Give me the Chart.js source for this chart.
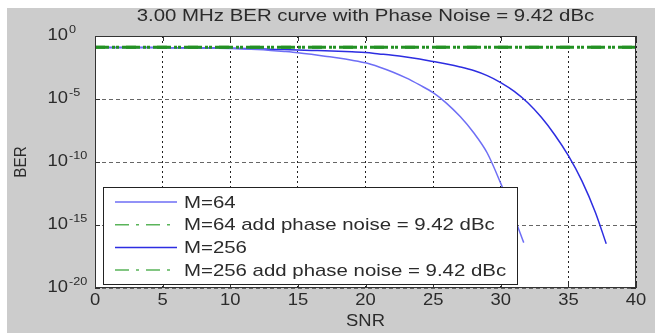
<!DOCTYPE html>
<html>
<head>
<meta charset="utf-8">
<script src="https://cdn.jsdelivr.net/npm/chart.js@4.4.0/dist/chart.umd.min.js"></script>
<style>
  html, body { margin: 0; padding: 0; background: #fff; }
</style>
</head>
<body>
<canvas id="chart" width="659" height="336"></canvas>
<script>
const title = '3.00 MHz BER curve with Phase Noise = 9.42 dBc';
const xTitle = 'SNR';
const yTitle = 'BER';

const xTicks = [0, 5, 10, 15, 20, 25, 30, 35, 40];
const yTicks = [1e-20, 1e-15, 1e-10, 1e-5, 1];
const yTickExp = ['-20', '-15', '-10', '-5', '0'];

const names = ['M=64', 'M=64 add phase noise = 9.42 dBc', 'M=256', 'M=256 add phase noise = 9.42 dBc'];

// M=64 without phase noise
const snr64 = [0, 1, 2, 3, 4, 5, 6, 7, 8, 9, 10, 11, 12, 13, 14, 15, 16, 17, 18, 19, 20,
  21, 22, 23, 24, 25, 26, 27, 28, 29, 30, 31, 31.7];
const ber64 = [1.26e-1, 1.25e-1, 1.23e-1, 1.21e-1, 1.20e-1, 1.18e-1, 1.15e-1, 1.12e-1, 1.10e-1, 1.07e-1,
  1.02e-1, 9.5e-2, 8.5e-2, 7.2e-2, 5.9e-2, 4.7e-2, 3.5e-2, 2.5e-2, 1.8e-2, 1.2e-2, 7.4e-3,
  3.5e-3, 1.4e-3, 4.7e-4, 1.3e-4, 3.2e-5, 4.5e-6, 4.0e-7, 2.1e-8, 5.2e-10, 2.0e-12, 4.0e-15, 4.0e-17];

// M=256 without phase noise
const snr256 = [0, 1, 2, 3, 4, 5, 6, 7, 8, 9, 10, 11, 12, 13, 14, 15, 16, 17, 18, 19, 20,
  21, 22, 23, 24, 25, 26, 27, 28, 29, 30, 31, 32, 33, 34, 35, 36, 37, 37.8];
const ber256 = [1.26e-1, 1.25e-1, 1.24e-1, 1.23e-1, 1.21e-1, 1.20e-1, 1.18e-1, 1.16e-1, 1.14e-1, 1.12e-1,
  1.07e-1, 1.02e-1, 9.5e-2, 8.9e-2, 8.3e-2, 7.8e-2, 7.2e-2, 6.8e-2, 6.2e-2, 5.5e-2, 4.8e-2,
  3.8e-2, 3.0e-2, 2.2e-2, 1.5e-2, 9.5e-3, 6.0e-3, 3.5e-3, 1.8e-3, 7.1e-4, 2.0e-4, 4.0e-5,
  5.0e-6, 3.5e-7, 1.4e-8, 3.2e-10, 3.2e-12, 1.0e-14, 3.2e-17];

// with phase noise (flat floor)
const snrPn = [0, 5, 10, 15, 20, 25, 30, 35, 40];
const ber64Pn = [0.128, 0.128, 0.128, 0.128, 0.128, 0.128, 0.128, 0.128, 0.128];
const ber256Pn = [0.127, 0.127, 0.127, 0.127, 0.127, 0.127, 0.127, 0.127, 0.127];

const FONT = '"Liberation Sans", Arial, sans-serif';
const INK = '#2b2b2b';

function pts(xs, ys) {
  return xs.map((v, i) => ({ x: v, y: ys[i] }));
}

// text with a slight horizontal stretch, like the picture
function label(ctx, str, x, y, size, align, sx) {
  ctx.save();
  ctx.font = size + 'px ' + FONT;
  ctx.textAlign = align;
  ctx.textBaseline = 'middle';
  ctx.translate(x, y);
  ctx.scale(sx, 1);
  ctx.fillText(str, 0, 0);
  ctx.restore();
}

const matlabFrame = {
  id: 'matlabFrame',
  beforeDraw(chart) {
    const { ctx, chartArea: a, width, height } = chart;
    ctx.save();
    ctx.fillStyle = '#ffffff';
    ctx.fillRect(0, 0, width, height);
    ctx.fillStyle = '#cccccc';
    ctx.fillRect(7, 8, width - 11, height - 11);
    ctx.fillStyle = '#ffffff';
    ctx.fillRect(a.left, a.top, a.right - a.left, a.bottom - a.top);
    ctx.restore();
  },
  afterDraw(chart) {
    const { ctx, chartArea: a, scales: { x, y } } = chart;
    ctx.save();

    // axes box and inward ticks
    ctx.strokeStyle = '#333';
    ctx.lineWidth = 1;
    ctx.strokeRect(a.left + 0.5, a.top + 0.5, a.right - a.left - 1, a.bottom - a.top - 1);
    ctx.beginPath();
    xTicks.forEach(v => {
      const px = Math.round(x.getPixelForValue(v)) + 0.5;
      ctx.moveTo(px, a.bottom); ctx.lineTo(px, a.bottom - 5);
      ctx.moveTo(px, a.top); ctx.lineTo(px, a.top + 5);
    });
    yTicks.forEach(v => {
      const py = Math.round(y.getPixelForValue(v)) + 0.5;
      ctx.moveTo(a.left, py); ctx.lineTo(a.left + 5, py);
      ctx.moveTo(a.right, py); ctx.lineTo(a.right - 5, py);
    });
    ctx.stroke();

    // tick labels
    ctx.fillStyle = INK;
    xTicks.forEach(v => label(ctx, String(v), x.getPixelForValue(v), a.bottom + 13, 16, 'center', 1.15));
    yTicks.forEach((v, i) => {
      const py = y.getPixelForValue(v);
      label(ctx, '10', 68, py, 16, 'right', 1.15);
      label(ctx, yTickExp[i], 69, py - 6, 11, 'left', 1.15);
    });

    // axis titles and title
    label(ctx, xTitle, (a.left + a.right) / 2, a.bottom + 34, 16, 'center', 1.15);
    ctx.save();
    ctx.translate(22, (a.top + a.bottom) / 2);
    ctx.rotate(-Math.PI / 2);
    label(ctx, yTitle, 0, 0, 16, 'center', 0.95);
    ctx.restore();
    label(ctx, title, (a.left + a.right) / 2, 16, 17, 'center', 1.2);

    // legend
    const lx = a.left + 8, ly = a.bottom - 101, lw = 414, lh = 97;
    ctx.fillStyle = '#ffffff';
    ctx.fillRect(lx, ly, lw, lh);
    ctx.strokeStyle = '#222';
    ctx.strokeRect(lx + 0.5, ly + 0.5, lw, lh);
    chart.data.datasets.forEach((ds, i) => {
      const ry = ly + 15 + i * 22.7;
      ctx.strokeStyle = ds.legendColor || ds.borderColor;
      ctx.lineWidth = 1.5;
      ctx.setLineDash(ds.borderDash || []);
      ctx.beginPath();
      ctx.moveTo(lx + 12, ry);
      ctx.lineTo(lx + 74, ry);
      ctx.stroke();
      ctx.setLineDash([]);
      ctx.fillStyle = INK;
      label(ctx, ds.label, lx + 81, ry + 1, 17, 'left', 1.2);
    });
    ctx.restore();
  }
};

new Chart(document.getElementById('chart'), {
  type: 'line',
  data: {
    datasets: [
      { label: names[0], data: pts(snr64, ber64), borderColor: 'rgb(110,110,245)', borderWidth: 1.5, order: 2 },
      { label: names[1], data: pts(snrPn, ber64Pn), borderColor: 'rgb(35,145,35)', borderWidth: 3,
        borderDash: [14, 7, 3, 7], legendColor: 'rgb(90,180,90)', order: 1 },
      { label: names[2], data: pts(snr256, ber256), borderColor: 'rgb(45,45,225)', borderWidth: 1.5, order: 2 },
      { label: names[3], data: pts(snrPn, ber256Pn), borderColor: 'rgb(35,145,35)', borderWidth: 3,
        borderDash: [14, 7, 3, 7], borderDashOffset: 4, legendColor: 'rgb(90,180,90)', order: 1 }
    ]
  },
  options: {
    responsive: false,
    devicePixelRatio: 1,
    animation: false,
    layout: { padding: { left: 95, top: 36, right: 23, bottom: 48 } },
    elements: { point: { radius: 0 }, line: { cubicInterpolationMode: 'monotone', fill: false } },
    plugins: { legend: { display: false }, title: { display: false }, tooltip: { enabled: false } },
    scales: {
      x: {
        type: 'linear', min: 0, max: 40,
        afterBuildTicks: s => { s.ticks = xTicks.map(v => ({ value: v })); },
        afterFit: s => { s.height = 0; },
        ticks: { display: false },
        grid: { color: '#222', lineWidth: 1, drawTicks: false },
        border: { display: false, dash: [2, 3] }
      },
      y: {
        type: 'logarithmic', min: 1e-20, max: 1,
        afterBuildTicks: s => { s.ticks = yTicks.map(v => ({ value: v })); },
        afterFit: s => { s.width = 0; },
        ticks: { display: false },
        grid: { color: '#666', lineWidth: 1, drawTicks: false },
        border: { display: false, dash: [4, 3] }
      }
    }
  },
  plugins: [matlabFrame]
});
</script>
</body>
</html>
